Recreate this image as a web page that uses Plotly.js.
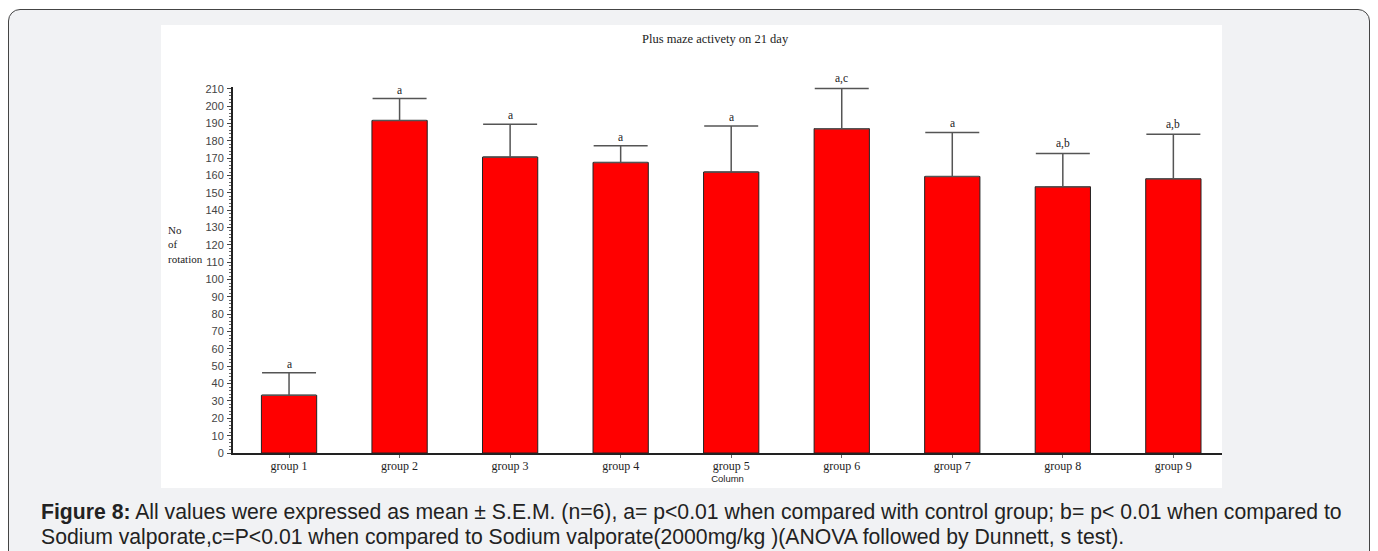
<!DOCTYPE html>
<html>
<head>
<meta charset="utf-8">
<script src="https://cdn.plot.ly/plotly-3.0.1.min.js"></script>
<style>
  html, body { margin: 0; padding: 0; background: #ffffff; width: 1378px; height: 551px; overflow: hidden; position: relative; }
  #frame { position: absolute; left: 8px; top: 9px; width: 1362px; height: 600px; border: 1.5px solid #444; border-radius: 12px; background: #f1f2f4; box-sizing: border-box; }
  #chart { position: absolute; left: 161px; top: 25px; width: 1061px; height: 463px; }
  #caption { position: absolute; left: 41px; top: 499px; font-family: "Liberation Sans", Arial, sans-serif; font-size: 21.2px; line-height: 25px; color: #222; white-space: nowrap; }
</style>
</head>
<body>
<div id="frame"></div>
<div id="chart"></div>
<div id="caption"><b>Figure 8:</b> All values were expressed as mean ± S.E.M. (n=6), a= p&lt;0.01 when compared with control group; b= p&lt; 0.01 when compared to<br>Sodium valporate,c=P&lt;0.01 when compared to Sodium valporate(2000mg/kg )(ANOVA followed by Dunnett, s test).</div>
<script>
const categories = ["group 1", "group 2", "group 3", "group 4", "group 5", "group 6", "group 7", "group 8", "group 9"];
const meanValues = [33.3, 191.7, 170.6, 167.5, 162.0, 187.0, 159.4, 153.5, 158.1];
const semValues = [12.9, 12.6, 18.9, 9.6, 26.5, 23.2, 25.4, 19.2, 25.6];
const sigLabels = ["a", "a", "a", "a", "a", "a,c", "a", "a,b", "a,b"];
const chartTitle = "Plus maze activety on 21 day";
const yTitleLines = ["No", "of", "rotation"];
const xTitle = "Column";

const serif = "Liberation Serif, Times New Roman, serif";
const sans = "Liberation Sans, Arial, sans-serif";

const trace = {
  type: "bar",
  x: categories,
  y: meanValues,
  width: 0.5,
  marker: { color: "#ff0000", line: { color: "#222", width: 1 } },
  error_y: {
    type: "data",
    symmetric: false,
    array: semValues,
    arrayminus: semValues.map(() => 0),
    color: "#555",
    thickness: 1.5,
    width: 27
  },
  hoverinfo: "none"
};

const annotations = categories.map((c, i) => ({
  x: c, y: meanValues[i] + semValues[i],
  xref: "x", yref: "y",
  text: sigLabels[i], showarrow: false,
  yanchor: "bottom", yshift: 1,
  font: { family: serif, size: 11.5, color: "#222" }
}));

annotations.push({
  xref: "paper", yref: "paper", x: 0.488, y: 1.13,
  text: chartTitle, showarrow: false, xanchor: "center", yanchor: "middle",
  font: { family: serif, size: 12.5, color: "#222" }
});

annotations.push({
  xref: "paper", yref: "paper", x: -0.068, y: 0.571,
  text: yTitleLines.join("<br>"), showarrow: false, xanchor: "left", yanchor: "middle", align: "left",
  font: { family: serif, size: 11, color: "#222" }
});

const layout = {
  width: 1061, height: 463,
  margin: { l: 72, r: 0, t: 62, b: 35 },
  paper_bgcolor: "#ffffff",
  plot_bgcolor: "#ffffff",
  showlegend: false,
  xaxis: {
    type: "category",
    range: [-0.507, 8.44],
    showgrid: false, zeroline: false,
    showline: true, linecolor: "#222", linewidth: 2,
    ticks: "outside", ticklen: 3, tickcolor: "#666", tickwidth: 1,
    ticklabelstandoff: -2,
    tickfont: { family: serif, size: 12, color: "#222" },
    title: { text: xTitle, font: { family: sans, size: 9.5, color: "#222" }, standoff: 2 }
  },
  yaxis: {
    range: [0, 211],
    tickmode: "linear", tick0: 0, dtick: 10,
    showgrid: false, zeroline: false,
    showline: true, linecolor: "#222", linewidth: 2,
    ticks: "outside", ticklen: 4, tickcolor: "#444", tickwidth: 1,
    ticklabelstandoff: 1,
    tickfont: { family: sans, size: 11, color: "#444" },
    minor: { dtick: 2, ticks: "outside", ticklen: 2, tickcolor: "#666", showgrid: false }
  },
  annotations: annotations
};

Plotly.newPlot("chart", [trace], layout, { displayModeBar: false, staticPlot: true });
</script>
</body>
</html>
